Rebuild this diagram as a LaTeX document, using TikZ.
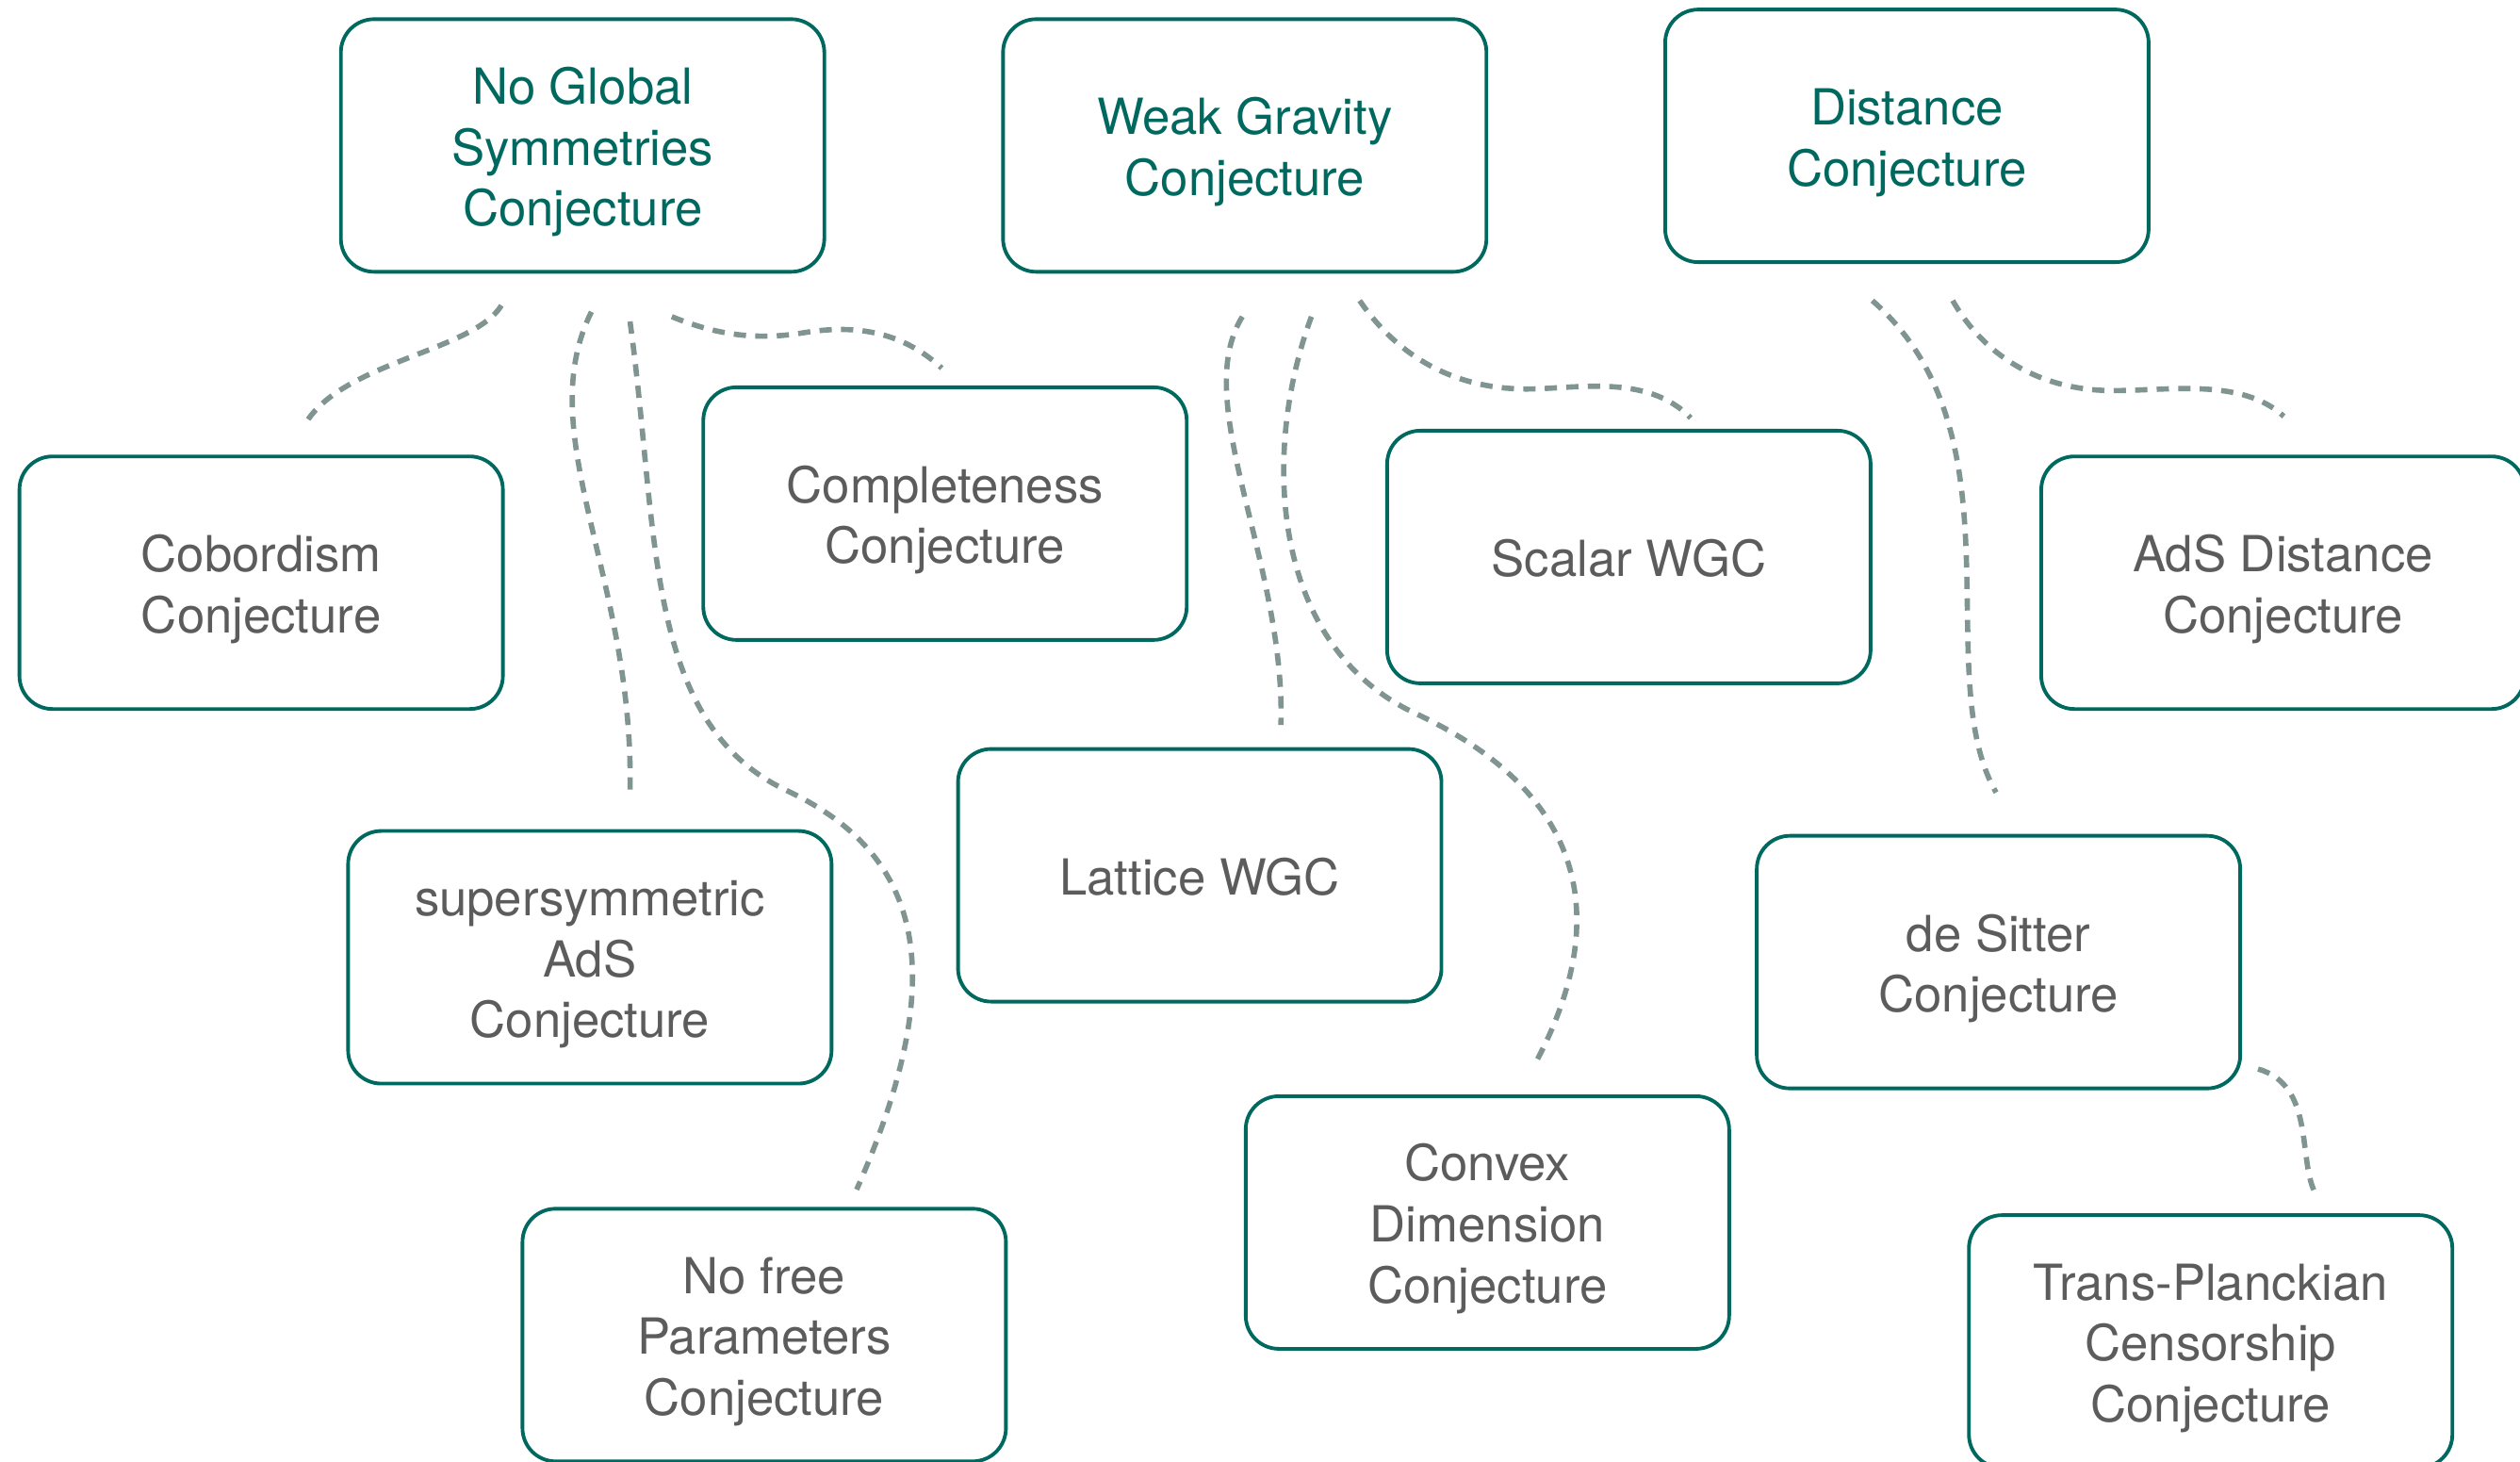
\documentclass[tikz,border=0pt]{standalone}
\usepackage{fontspec}
\setmainfont{TeX Gyre Heros}
\definecolor{conjteal}{RGB}{0,105,95}
\definecolor{conjgrey}{RGB}{92,92,92}
\definecolor{linkgrey}{RGB}{128,148,145}
\newcommand{\conjtext}[1]{\raisebox{0pt}[\dimexpr\height+4.4pt\relax][\depth]{\begin{tabular}{@{}c@{}}#1\end{tabular}}}
\tikzset{
  box/.style={draw=conjteal, line width=1.1pt, rounded corners=10pt, minimum width=51.3mm, minimum height=26.8mm, text=conjgrey, font=\fontsize{15}{18.4}\selectfont},
  main/.style={box, text=conjteal},
  link/.style={draw=linkgrey, line width=1.6pt, dash pattern=on 3.7pt off 2.8pt}
}
\begin{document}
\begin{tikzpicture}[x=0.17054mm, y=-0.17054mm]
        \useasboundingbox (0,0) rectangle (1568,909);
        \node[main] (ngs) at (362.5,90.5) {\conjtext{No Global\\Symmetries\\Conjecture}};
        \node[main] (wgc) at (774.5,90.5) {\conjtext{Weak Gravity\\Conjecture}};
        \node[main] (dist) at (1186.5,84.5) {\conjtext{Distance\\Conjecture}};
        \node[box] (cob) at (162.5,362.5) {\conjtext{Cobordism\\Conjecture}};
        \node[box] (compl) at (588,319.5) {\conjtext{Completeness\\Conjecture}};
        \node[box] (swgc) at (1013.5,346.5) {\conjtext{Scalar WGC}};
        \node[box] (adsd) at (1420.5,362.5) {\conjtext{AdS Distance\\Conjecture}};
        \node[box] (susy) at (367,595.5) {\conjtext{supersymmetric\\AdS\\Conjecture}};
        \node[box] (lwgc) at (746.5,544.5) {\conjtext{Lattice WGC}};
        \node[box] (ds) at (1243.5,598.5) {\conjtext{de Sitter\\Conjecture}};
        \node[box] (nfp) at (475.5,830.5) {\conjtext{No free\\Parameters\\Conjecture}};
        \node[box] (cvx) at (925.5,760.5) {\conjtext{Convex\\Dimension\\Conjecture}};
        \node[box] (tpc) at (1375.5,834.5) {\conjtext{Trans-Planckian\\Censorship\\Conjecture}};
        % loose ends of the dashed links
        \coordinate (ngs1) at (312,190);  \coordinate (cob1) at (191,262);
        \coordinate (ngs2) at (368,194);  \coordinate (susy1) at (392,493);
        \coordinate (ngs3) at (392,200);  \coordinate (nfp1) at (533,740);
        \coordinate (ngs4) at (418,197);  \coordinate (compl1) at (586,229);
        \coordinate (wgc1) at (773,197);  \coordinate (lwgc1) at (797,451);
        \coordinate (wgc2) at (816,197);  \coordinate (cvx1) at (955,662);
        \coordinate (wgc3) at (846,187);  \coordinate (swgc1) at (1052,260);
        \coordinate (dist1) at (1165,187); \coordinate (ds1) at (1242,493);
        \coordinate (dist2) at (1215,187); \coordinate (adsd1) at (1421,259);
        \coordinate (ds2) at (1405,665);  \coordinate (tpc1) at (1440,741);
        \draw[link] (ngs1) .. controls (295,218) and (215,225) .. (cob1);
        \draw[link] (ngs2) .. controls (330,270) and (395,360) .. (susy1);
        \draw[link] (ngs3) .. controls (410,330) and (400,450) .. (490,492) .. controls (570,530) and (595,600) .. (nfp1);
        \draw[link] (ngs4) .. controls (445,208) and (470,212) .. (500,207) .. controls (530,202) and (560,205) .. (compl1);
        \draw[link] (wgc1) .. controls (740,250) and (800,350) .. (lwgc1);
        \draw[link] (wgc2) .. controls (785,280) and (790,400) .. (879,443) .. controls (975,487) and (1010,560) .. (cvx1);
        \draw[link] (wgc3) .. controls (870,222) and (905,242) .. (950,242) .. controls (980,242) and (1025,232) .. (swgc1);
        \draw[link] (dist1) .. controls (1260,270) and (1200,420) .. (ds1);
        \draw[link] (dist2) .. controls (1235,222) and (1270,243) .. (1315,243) .. controls (1350,243) and (1395,235) .. (adsd1);
        \draw[link] (ds2) .. controls (1440,675) and (1430,720) .. (tpc1);
      \end{tikzpicture}
\end{document}
